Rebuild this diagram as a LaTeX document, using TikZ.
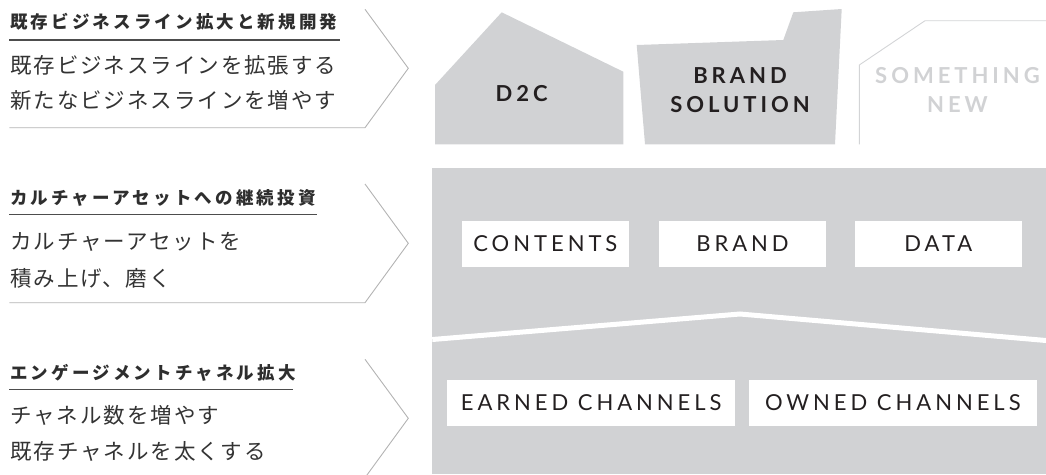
\documentclass[tikz,border=0pt]{standalone}
\usepackage{fontspec}
\setmainfont{Lato}
\newfontfamily\jphead{Noto Sans CJK JP}[LetterSpace=18]
\newfontfamily\jpbody{Noto Sans CJK JP}[LetterSpace=9]
\newfontfamily\latsp{Lato}[LetterSpace=18]
\definecolor{panel}{HTML}{D1D2D4}
\definecolor{ink}{HTML}{231F20}
\definecolor{headc}{HTML}{2E2E2E}
\definecolor{bodyc}{HTML}{333333}
\definecolor{ghost}{HTML}{D1D2D4}
\definecolor{ghostline}{HTML}{D3D4D6}
\definecolor{rulec}{HTML}{B3B3B3}
\definecolor{ulc}{HTML}{4D4D4D}
\tikzset{
  heading/.style={anchor=west, inner sep=0pt, text=headc, font=\jphead\bfseries\fontsize{17.5pt}{20pt}\selectfont},
  bodytext/.style={anchor=west, inner sep=0pt, text=bodyc, font=\jpbody\fontsize{21.5pt}{25pt}\selectfont},
  shapetext/.style={inner sep=0pt, align=center, text depth=0pt, font=\latsp\bfseries\fontsize{22pt}{28.7pt}\selectfont},
  chip/.style={fill=white, inner sep=0pt, minimum height=45.7pt, text=ink, text depth=0pt, font=\latsp\fontsize{22pt}{26pt}\selectfont},
  underline/.style={draw=ulc, line width=1.6pt},
  chevron/.style={draw=rulec, line width=0.9pt},
}
\begin{document}
\begin{tikzpicture}[x=1pt, y=-1pt]
\useasboundingbox (0,0) rectangle (1046,474);
\clip (0,0) rectangle (1046,474);

% ---------- left column ----------
\node[heading] (h1) at (10,21.7) {既存ビジネスライン拡大と新規開発};
\coordinate (u1a) at (9.3,40); \coordinate (u1b) at (340,40);
\draw[underline] (u1a) -- (u1b);
\node[bodytext] (b1a) at (10,65) {既存ビジネスラインを拡張する};
\node[bodytext] (b1b) at (10,100) {新たなビジネスラインを増やす};
\coordinate (c1a) at (9.3,127.7); \coordinate (c1b) at (365,127.7);
\coordinate (c1t) at (408.3,68.3); \coordinate (c1c) at (365,9.3);
\draw[chevron] (c1a) -- (c1b) -- (c1t) -- (c1c);

\node[heading] (h2) at (10,197.5) {カルチャーアセットへの継続投資};
\coordinate (u2a) at (9.3,214.3); \coordinate (u2b) at (317.3,214.3);
\draw[underline] (u2a) -- (u2b);
\node[bodytext] (b2a) at (10,241.7) {カルチャーアセットを};
\node[bodytext] (b2b) at (10,278.3) {積み上げ、磨く};
\coordinate (c2a) at (9.3,302.7); \coordinate (c2b) at (365,302.7);
\coordinate (c2t) at (408.3,243.3); \coordinate (c2c) at (365,184);
\draw[chevron] (c2a) -- (c2b) -- (c2t) -- (c2c);

\node[heading] (h3) at (10,373.3) {エンゲージメントチャネル拡大};
\coordinate (u3a) at (9.3,389.3); \coordinate (u3b) at (293.3,389.3);
\draw[underline] (u3a) -- (u3b);
\node[bodytext] (b3a) at (10,415) {チャネル数を増やす};
\node[bodytext] (b3b) at (10,451.7) {既存チャネルを太くする};
\coordinate (c3a) at (9.3,477.7); \coordinate (c3b) at (365,477.7);
\coordinate (c3t) at (408.3,418.3); \coordinate (c3c) at (365,359.3);
\draw[chevron] (c3a) -- (c3b) -- (c3t) -- (c3c);

% ---------- top shapes ----------
\fill[panel] (435,85) -- (501.7,12.3) -- (623.3,71.7) -- (623.3,144.3) -- (435,144.3) -- cycle;
\fill[panel] (636.7,45) -- (783.3,40) -- (793.3,12.3) -- (841.7,9) -- (835,144.3) -- (645,144.3) -- cycle;
\draw[ghostline, line width=0.9pt] (859.3,144.3) -- (859.3,65) -- (925,20.7) -- (1047,20.7);
\node[shapetext, text=ink] (d2c) at (521.7,93.3) {D2C};
\node[shapetext, text=ink] (brandsol) at (740,90.2) {BRAND\\SOLUTION};
\node[shapetext, text=ghost] (something) at (957.5,90.2) {SOMETHING\\NEW};

% ---------- panel ----------
\fill[panel] (432.3,167.7) rectangle (1046,474);
\draw[white, line width=5pt] (432.3,339.5) -- (740,314) -- (1046,340.5);

\node[chip, minimum width=167.3pt] (contents) at (545.35,243.85) {CONTENTS};
\node[chip, minimum width=167pt] (brand) at (742.5,243.85) {BRAND};
\node[chip, minimum width=166.7pt] (data) at (938.35,243.85) {DATA};
\node[chip, minimum width=287.7pt] (earned) at (591.15,402.85) {EARNED CHANNELS};
\node[chip, minimum width=287.7pt] (owned) at (892.85,402.85) {OWNED CHANNELS};
\end{tikzpicture}
\end{document}
